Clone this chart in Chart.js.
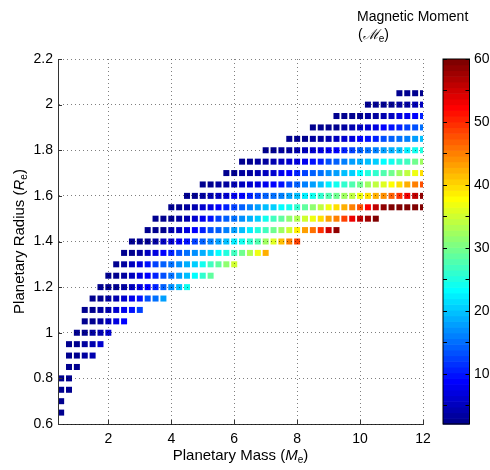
<!DOCTYPE html>
<html><head><meta charset="utf-8">
<script src="https://cdn.jsdelivr.net/npm/chart.js@4.4.1/dist/chart.umd.min.js"></script>
<style>html,body{margin:0;padding:0;background:#fff}#wrap{width:490px;height:470px;position:relative}</style>
</head><body><div id="wrap"><canvas id="c" width="490" height="470"></canvas></div>
<script>
// ---- data ----
const masses = [0.5,0.75,1,1.25,1.5,1.75,2,2.25,2.5,2.75,3,3.25,3.5,3.75,4,4.25,4.5,4.75,5,5.25,5.5,5.75,6,6.25,6.5,6.75,7,7.25,7.5,7.75,8,8.25,8.5,8.75,9,9.25,9.5,9.75,10,10.25,10.5,10.75,11,11.25,11.5,11.75,12];
const radii = [0.65,0.7,0.75,0.8,0.85,0.9,0.95,1,1.05,1.1,1.15,1.2,1.25,1.3,1.35,1.4,1.45,1.5,1.55,1.6,1.65,1.7,1.75,1.8,1.85,1.9,1.95,2,2.05];
// index into masses of the first cell of each radius row
const rowStart = [0,0,0,0,1,1,1,2,3,3,4,5,6,7,8,9,11,12,14,16,18,21,23,26,29,32,35,39,43];
// magnetic moment values of each row, left to right
const moments = [
  [2],
  [2],
  [2,2],
  [2,2],
  [2,2],
  [2,2,3,4],
  [2,2,3,4,6],
  [2,2,3,4,6],
  [2,2,3,5,7,9],
  [2,2,3,4,6,8,10,12],
  [2,2,3,4,6,8,10,13,15,18],
  [2,2,2.5,3,5,7,9,11,14,17,20,24],
  [2,2,3,5,7,9,11,13,15,18,20,23,26,29],
  [2,3,5,7,10,12,14,15,17,19,21,24,27,29,31,35],
  [2,2,3,5,7,9,11,13,15,17,19,21,23,25,27,30,33,37,42],
  [2,2,2,3,5,6,8,10,12,14,16,18,20,22,24,26,28,32,36,41,45,49],
  [2,2,2,4,5,7,9,11,13,14,16,18,20,22,25,27,30,32,35,39,43,46,50,55,59],
  [2,2,2,3,4,6,8,10,12,14,15,17,19,21,24,27,29,31,33,35,37,40,43,45,49,53,56,58,60],
  [2,2,3,4,6,7,9,11,12,14,16,18,20,21,23,24,26,29,31,34,37,40,42,45,48,52,56,59,60,60,60,60,60],
  [2,2,3,4,5,6,8,9,11,12,14,15,16,18,20,22,24,26,28,30,32,34,37,40,42,44,47,50,53,56,59],
  [2,2,3,3,4,5,6,7,8,9,10,12,14,16,18,20,22,24,26,28,30,32,34,36,38,40,42,45,48],
  [2,2,3,3,4,5,6,8,9,11,12,14,15,17,18,20,21,23,25,26,28,30,32,34,37,40],
  [2,2,3,3,4,5,6,7,8,10,11,13,14,16,18,19,20,21,23,24,26,27,30,32],
  [2,2,3,3,4,5,6,7,8,9,11,12,14,15,16,18,19,20,22,24,25],
  [2,2,2,3,3,4,5,6,7,9,10,11,13,14,15,16,18,20],
  [2,2,2,2,3,4,5,6,7,9,10,11,12,13,15],
  [2,2,2,2,3,3,4,5,7,8,9,11],
  [2,2,2,2,3,3,4,5],
  [2,2,2,2]
];
const xTicks = [2,4,6,8,10,12];
const yTicks = [0.6,0.8,1,1.2,1.4,1.6,1.8,2,2.2];
const cbTicks = [10,20,30,40,50,60];
const cbMinorTicks = [5,15,25,35,45,55];
const cMin = 2, cMax = 60;

// ---- MATLAB jet(64) colormap ----
function jetRGB(k){
  const b = k<=8 ? (k+8)/16 : k<=24 ? 1 : k<=39 ? (40-k)/16 : 0;
  const g = k<=8 ? 0 : k<=24 ? (k-8)/16 : k<=40 ? 1 : k<=55 ? (56-k)/16 : 0;
  const r = k<=24 ? 0 : k<=40 ? (k-24)/16 : k<=56 ? 1 : (72-k)/16;
  return 'rgb(' + Math.round(r*255) + ',' + Math.round(g*255) + ',' + Math.round(b*255) + ')';
}
function jetColor(v){
  let k = Math.floor((v - cMin)/(cMax - cMin)*64) + 1;
  k = Math.max(1, Math.min(64, k));
  return jetRGB(k);
}

const points = [];
radii.forEach((r, i) => {
  moments[i].forEach((m, j) => points.push({x: masses[rowStart[i] + j], y: r, v: m}));
});

const FAM = "'Liberation Sans', Arial, Helvetica, sans-serif";
Chart.defaults.font.family = FAM;
Chart.defaults.font.size = 14;
Chart.defaults.color = '#000';

function drawRich(ctx, parts, x, y, size, align){
  const fontFor = p => p[1]==='i' ? 'italic ' + size + 'px ' + FAM : p[1]==='s' ? Math.round(size*0.68) + 'px ' + FAM : size + 'px ' + FAM;
  let w = 0;
  parts.forEach(p => { ctx.font = fontFor(p); w += ctx.measureText(p[0]).width; });
  let cx = align === 'center' ? x - w/2 : x;
  ctx.textAlign = 'left';
  ctx.textBaseline = 'alphabetic';
  parts.forEach(p => {
    ctx.font = fontFor(p);
    ctx.fillText(p[0], cx, p[1]==='s' ? y + size*0.22 : y);
    cx += ctx.measureText(p[0]).width;
  });
}

const decor = {
  id: 'decor',
  afterDraw(chart){
    const ctx = chart.ctx;
    const ca = chart.chartArea;
    const xs = chart.scales.x, ys = chart.scales.y, cb = chart.scales.cb;
    ctx.save();
    // inward tick marks
    ctx.strokeStyle = '#333'; ctx.lineWidth = 1;
    ctx.beginPath();
    xTicks.forEach(t => { const px = Math.round(xs.getPixelForValue(t)) + 0.5; ctx.moveTo(px, ca.bottom); ctx.lineTo(px, ca.bottom - 4); });
    yTicks.forEach(t => { const py = Math.round(ys.getPixelForValue(t)) + 0.5; ctx.moveTo(ca.left, py); ctx.lineTo(ca.left + 4, py); });
    ctx.stroke();
    // colorbar
    const x0 = 443, x1 = 469.5;
    for (let k = 1; k <= 64; k++){
      const ya = cb.getPixelForValue(cMin + (k-1)*(cMax-cMin)/64);
      const yb = cb.getPixelForValue(cMin + k*(cMax-cMin)/64);
      ctx.fillStyle = jetRGB(k);
      ctx.fillRect(x0, yb, x1 - x0, ya - yb + 0.6);
    }
    ctx.strokeStyle = '#000'; ctx.lineWidth = 1;
    ctx.strokeRect(x0, cb.top, x1 - x0, cb.bottom - cb.top);
    ctx.beginPath();
    cbTicks.concat(cbMinorTicks).forEach(t => {
      const py = Math.round(cb.getPixelForValue(t)) + 0.5;
      ctx.moveTo(x0, py); ctx.lineTo(x0 + 4, py);
      ctx.moveTo(x1, py); ctx.lineTo(x1 - 4, py);
    });
    ctx.stroke();
    // texts
    ctx.fillStyle = '#000';
    drawRich(ctx, [['Planetary Mass (', 'n'], ['M', 'i'], ['e', 's'], [')', 'n']], (ca.left + ca.right)/2, 460, 15, 'center');
    ctx.save();
    ctx.translate(19, (ca.top + ca.bottom)/2);
    ctx.rotate(-Math.PI/2);
    drawRich(ctx, [['Planetary Radius (', 'n'], ['R', 'i'], ['e', 's'], [')', 'n']], 0, 5, 15, 'center');
    ctx.restore();
    drawRich(ctx, [['Magnetic Moment', 'n']], 357, 21, 14, 'left');
    drawRich(ctx, [['(', 'n'], ['\u2133', 'i'], ['e', 's'], [')', 'n']], 358, 39, 14, 'left');
    ctx.restore();
  }
};

const gridOpts = { color: 'rgba(0,0,0,0.5)', lineWidth: 1, drawTicks: false, z: 1 };

new Chart(document.getElementById('c').getContext('2d'), {
  type: 'scatter',
  data: { datasets: [{
    data: points,
    pointStyle: 'rect',
    pointRadius: 4.25,
    pointHoverRadius: 4.25,
    pointBorderWidth: 0,
    backgroundColor: c => jetColor(c.raw ? c.raw.v : cMin),
    borderColor: c => jetColor(c.raw ? c.raw.v : cMin)
  }]},
  options: {
    responsive: false,
    animation: false,
    events: [],
    layout: { padding: { top: 59, left: 0, right: 0, bottom: 0 } },
    plugins: { legend: { display: false }, tooltip: { enabled: false } },
    scales: {
      x: {
        type: 'linear', position: 'bottom', min: 0.4, max: 12,
        afterBuildTicks: s => { s.ticks = xTicks.map(v => ({value: v})); },
        afterFit: s => { s.height = 46; },
        grid: gridOpts,
        border: { display: true, color: '#333', width: 1, dash: [1, 3], z: 1 },
        ticks: { padding: 7, font: { size: 14 }, callback: v => String(v) }
      },
      y: {
        type: 'linear', position: 'left', min: 0.6, max: 2.2,
        afterBuildTicks: s => { s.ticks = yTicks.map(v => ({value: v})); },
        afterFit: s => { s.width = 58; },
        grid: gridOpts,
        border: { display: true, color: '#333', width: 1, dash: [1, 3], z: 1 },
        ticks: { padding: 5, font: { size: 14 }, callback: v => String(Number(v.toFixed(1))) }
      },
      cb: {
        type: 'linear', position: 'right', min: cMin, max: cMax,
        afterBuildTicks: s => { s.ticks = cbTicks.map(v => ({value: v})); },
        afterFit: s => { s.width = 67; },
        grid: { display: true, drawOnChartArea: false, drawTicks: true, tickLength: 48, tickColor: 'rgba(0,0,0,0)', color: 'rgba(0,0,0,0)' },
        border: { display: false },
        ticks: { padding: 3, font: { size: 14 }, callback: v => String(v) }
      }
    }
  },
  plugins: [decor]
});
</script>
</body></html>
